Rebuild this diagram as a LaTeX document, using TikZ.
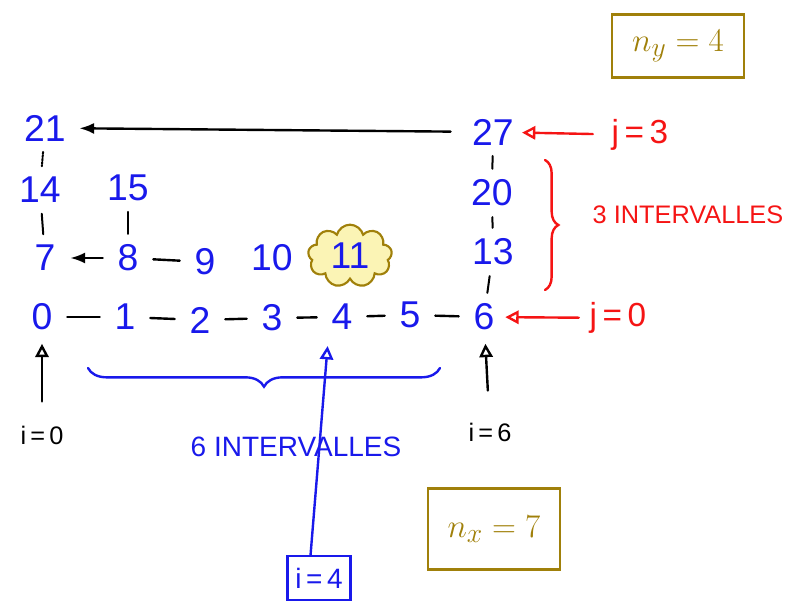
\documentclass[tikz,border=0pt]{standalone}
\usepackage{fontspec}
\setmainfont{Liberation Sans}
\usetikzlibrary{arrows.meta, positioning, decorations.pathreplacing, shapes.symbols}
\definecolor{penblue}{RGB}{25,25,235}
\definecolor{penred}{RGB}{245,20,20}
\definecolor{penolive}{RGB}{160,128,10}
\definecolor{hilite}{RGB}{250,240,150}

\begin{document}
\begin{tikzpicture}[
        x=0.75pt, y=-0.75pt,
        num/.style={text=penblue, font=\fontsize{28}{30}\selectfont, inner sep=2pt},
        lbl/.style={font=\fontsize{19}{21}\selectfont, inner sep=2pt},
        big/.style={font=\fontsize{25}{27}\selectfont, inner sep=2pt},
        caps/.style={font=\fontsize{19}{21}\selectfont, inner sep=2pt},
        hop/.style={line width=1.8pt, line cap=round, shorten <=9pt, shorten >=9pt},
        tick/.style={line width=1.5pt, line cap=round, shorten <=6pt, shorten >=6pt},
        pen/.style={line width=1.8pt, line cap=round},
        head/.style={-{Triangle[open, length=10pt, width=10pt]}},
        tag/.style={draw=penolive, line width=2pt, text=penolive, font=\fontsize{29}{31}\selectfont}
    ]
    \useasboundingbox (0,0) rectangle (808,606);

    % grid of points
    \node[num] (n0) at (42,317) {0};
    \node[num] (n1) at (125,317) {1};
    \node[num] (n2) at (200,320) {2};
    \node[num] (n3) at (272,318) {3};
    \node[num] (n4) at (342,317) {4};
    \node[num] (n5) at (410,315) {5};
    \node[num] (n6) at (484,317) {6};

    \node[num] (n7) at (45,258) {7};
    \node[num] (n8) at (128,258) {8};
    \node[num] (n9) at (205,262) {9};
    \node[num] (n10) at (272,258) {10};
    \node[num, cloud, cloud puffs=9, aspect=1.4, draw=penolive, fill=hilite!70, line width=1.6pt,
          minimum width=63pt, minimum height=47pt] (n11) at (350,256) {11};
    \node[num] (n13) at (493,252) {13};

    \node[num] (n14) at (40,190) {14};
    \node[num] (n15) at (128,188) {15};
    \node[num] (n20) at (492,193) {20};

    \node[num] (n21) at (45,128) {21};
    \node[num] (n27) at (493,132) {27};

    \draw[hop] (n0) -- (n1);
    \draw[hop] (n1) -- (n2);
    \draw[hop] (n2) -- (n3);
    \draw[hop] (n3) -- (n4);
    \draw[hop] (n4) -- (n5);
    \draw[hop] (n5) -- (n6);
    \draw[hop, -Latex] (n8) -- (n7);
    \draw[hop] (n8) -- (n9);

    \draw[tick, densely dotted] (n21) -- (n14);
    \draw[tick] (n14) -- (n7);
    \draw[tick] (n15) -- (n8);
    \draw[tick] (n27) -- (n20);
    \draw[tick] (n20) -- (n13);
    \draw[tick] (n13) -- (n6);
    \draw[pen, -Latex, shorten <=14pt, shorten >=8pt] (n27) -- (n21);

    % j side
    \node[big, text=penred] (j3) at (640,135) {j\,=\,3};
    \node[big, text=penred] (j0) at (618,318) {j\,=\,0};
    \draw[pen, penred, head, shorten <=12pt, shorten >=4pt] (j3) -- (n27);
    \draw[pen, penred, head, shorten <=6pt, shorten >=6pt] (j0) -- (n6);
    \draw[pen, penred, decorate, decoration={brace, amplitude=10pt}] (545,160) -- (545,290);
    \node[caps, text=penred] (jint) at (688,215) {3 INTERVALLES};

    % i side
    \node[lbl] (i0) at (42,435) {i\,=\,0};
    \node[lbl] (i6) at (490,432) {i\,=\,6};
    \draw[pen, head, shorten <=16pt, shorten >=8pt] (i0) -- (n0);
    \draw[pen, head, shorten <=22pt, shorten >=8pt] (i6) -- (n6);
    \draw[pen, penblue, decorate, decoration={brace, amplitude=14pt}] (440,368) -- (88,368);
    \node[caps, text=penblue, font=\fontsize{21}{23}\selectfont] (iint) at (296,447) {6 INTERVALLES};

    \node[lbl, draw=penblue, line width=1.8pt, text=penblue, font=\fontsize{21}{23}\selectfont,
          minimum width=47pt, minimum height=33pt] (i4) at (319,578) {i\,=\,4};
    \draw[pen, penblue, head, shorten >=10pt] (i4.110) -- (n4.south west);

    % sizes
    \node[tag, minimum width=99pt, minimum height=47pt] (ny) at (678,46) {$n_y=4$};
    \node[tag, minimum width=99pt, minimum height=61pt] (nx) at (494,529) {$n_x=7$};
\end{tikzpicture}
\end{document}
